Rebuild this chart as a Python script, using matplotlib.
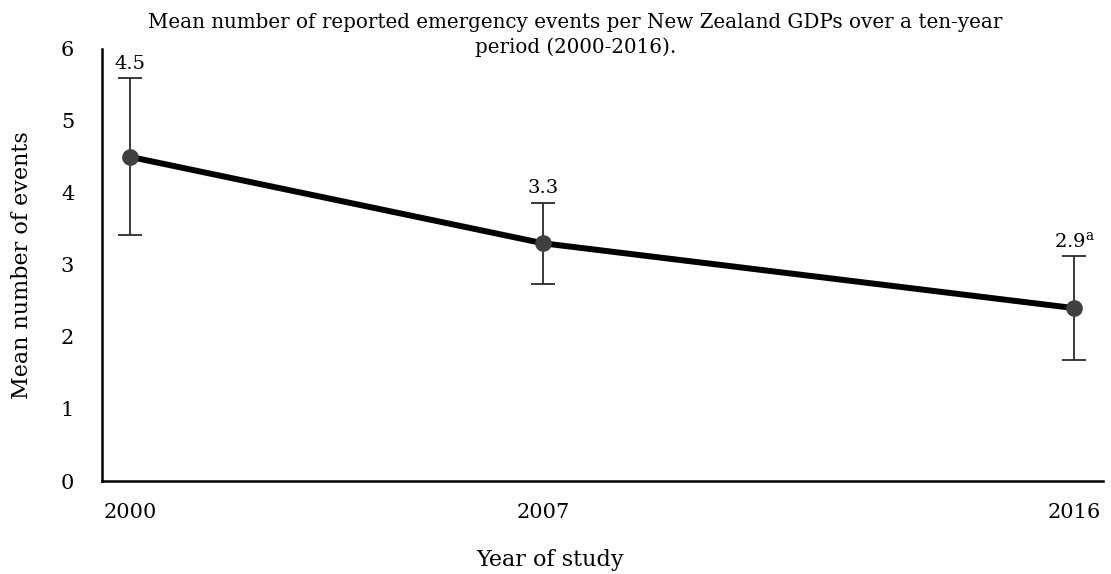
import numpy as np
import matplotlib
matplotlib.use("Agg")
import matplotlib.pyplot as plt

plt.rcParams['font.family'] = ['DejaVu Serif']
plt.rcParams['mathtext.fontset'] = 'dejavuserif'

# mean events per GDP and the error bar half-widths
years = [2000, 2007, 2016]
means = [4.5, 3.3, 2.4]
errors = [1.09, 0.56, 0.72]
point_labels = ["4.5", "3.3", r"2.9$^{\mathregular{a}}$"]

fig = plt.figure(figsize=(11.11, 5.74), dpi=100)
ax = fig.add_axes([0.0918, 0.162, 0.9012, 0.753])

ax.errorbar(years, means, yerr=errors, fmt='none', ecolor='#2b2b2b',
            elinewidth=1.3, capsize=8.5, capthick=1.3, zorder=2)
ax.plot(years, means, color='black', linewidth=4.3, zorder=3)
ax.plot(years, means, 'o', color='#404040', markersize=11, zorder=4)

for x, y, e, lab in zip(years, means, errors, point_labels):
    ax.annotate(lab, (x, y + e), xytext=(0, 4), textcoords='offset points',
                ha='center', va='bottom', fontsize=14)

ax.set_xlim(1999.525, 2016.49)
ax.set_ylim(0, 6)
ax.set_xticks(years)
ax.set_xticklabels([str(y) for y in years])
ax.set_yticks(range(0, 7))
ax.tick_params(axis='both', length=0, labelsize=15)
ax.tick_params(axis='x', pad=16)
ax.tick_params(axis='y', pad=20)

for s in ['top', 'right']:
    ax.spines[s].set_visible(False)
ax.spines['left'].set_linewidth(1.8)
ax.spines['bottom'].set_linewidth(1.8)

fig.text(0.518, 0.939, "Mean number of reported emergency events per New Zealand GDPs over a ten-year\nperiod (2000-2016).",
         ha='center', va='center', fontsize=14.3, linespacing=1.4)
fig.text(0.495, 0.024, "Year of study", ha='center', va='center', fontsize=16)
fig.text(0.02, 0.538, "Mean number of events", ha='center', va='center',
         rotation=90, fontsize=16)

fig.savefig('out.png', dpi=100)
